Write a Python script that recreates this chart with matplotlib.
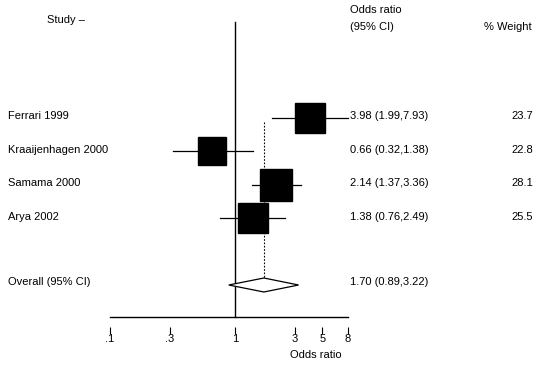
import matplotlib.pyplot as plt
import matplotlib.transforms as mtransforms
import numpy as np

plt.rcParams['font.family'] = ['Liberation Sans', 'DejaVu Sans']

studies = ['Ferrari 1999', 'Kraaijenhagen 2000', 'Samama 2000', 'Arya 2002']
odds = [3.98, 0.66, 2.14, 1.38]
lower = [1.99, 0.32, 1.37, 0.76]
upper = [7.93, 1.38, 3.36, 2.49]
weights = [23.7, 22.8, 28.1, 25.5]
overall = (1.70, 0.89, 3.22)
ticks = [0.1, 0.3, 1, 3, 5, 8]
tick_labels = ['.1', '.3', '1', '3', '5', '8']

W, H = 554, 369
fig = plt.figure(figsize=(W / 100, H / 100), dpi=100)
ax = fig.add_axes([110 / W, 0, (348 - 110) / W, 1])
ax.set_xscale('log')
ax.set_xlim(0.1, 8)
row_px = 33.4
ax.set_ylim((H - 118) / row_px, -118 / row_px)
for s in ['top', 'left', 'right']:
    ax.spines[s].set_visible(False)
ax.spines['bottom'].set_position(('data', 6.25))
ax.spines['bottom'].set_color('none')
ax.set_yticks([])
ax.set_xticks(ticks)
ax.set_xticklabels(tick_labels)
ax.xaxis.set_minor_locator(plt.NullLocator())
ax.tick_params(axis='x', length=5, width=0.8, pad=0, labelsize=8)
ax.patch.set_visible(False)

rows = np.arange(len(studies))
axis_y = 5.96
ax.plot([0.1, 8], [axis_y, axis_y], color='black', lw=1, clip_on=False)
ax.plot([1, 1], [-2.87, axis_y], color='black', lw=1, clip_on=False)
ax.plot([overall[0], overall[0]], [0.12, 5.2], color='black', lw=0.8,
        linestyle=(0, (1.5, 1.5)), clip_on=False)

for r, o, lo, hi, w in zip(rows, odds, lower, upper, weights):
    ax.plot([lo, hi], [r, r], color='black', lw=0.9, clip_on=False)
    ax.plot(o, r, marker='s', color='black', markersize=6 * np.sqrt(w) * 0.72,
            clip_on=False)

ov_row = 5
h = 7 / row_px
ax.fill([overall[1], overall[0], overall[2], overall[0]],
        [ov_row, ov_row - h, ov_row, ov_row + h],
        facecolor='white', edgecolor='black', lw=0.9, clip_on=False, zorder=3)

trans = mtransforms.blended_transform_factory(fig.transFigure, ax.transData)
fs = 8
ax.text(47 / W, -2.93, 'Study \u2013', transform=trans, fontsize=fs, va='center')
ax.text(350 / W, -3.23, 'Odds ratio', transform=trans, fontsize=fs, va='center')
ax.text(350 / W, -2.72, '(95% CI)', transform=trans, fontsize=fs, va='center')
ax.text(532 / W, -2.72, '% Weight', transform=trans, fontsize=fs, va='center', ha='right')

for r, s, o, lo, hi, w in zip(rows, studies, odds, lower, upper, weights):
    ax.text(8 / W, r - 0.05, s, transform=trans, fontsize=fs, va='center')
    ax.text(350 / W, r - 0.05, f'{o:.2f} ({lo:.2f},{hi:.2f})', transform=trans,
            fontsize=fs, va='center')
    ax.text(533 / W, r - 0.05, f'{w:.1f}', transform=trans, fontsize=fs,
            va='center', ha='right')

ax.text(8 / W, ov_row - 0.1, 'Overall (95% CI)', transform=trans, fontsize=fs, va='center')
ax.text(350 / W, ov_row - 0.1, f'{overall[0]:.2f} ({overall[1]:.2f},{overall[2]:.2f})',
        transform=trans, fontsize=fs, va='center')

ax.text(4.4, (355 - 118) / row_px, 'Odds ratio', fontsize=fs, ha='center', va='center')

fig.savefig('out.png', dpi=100)
